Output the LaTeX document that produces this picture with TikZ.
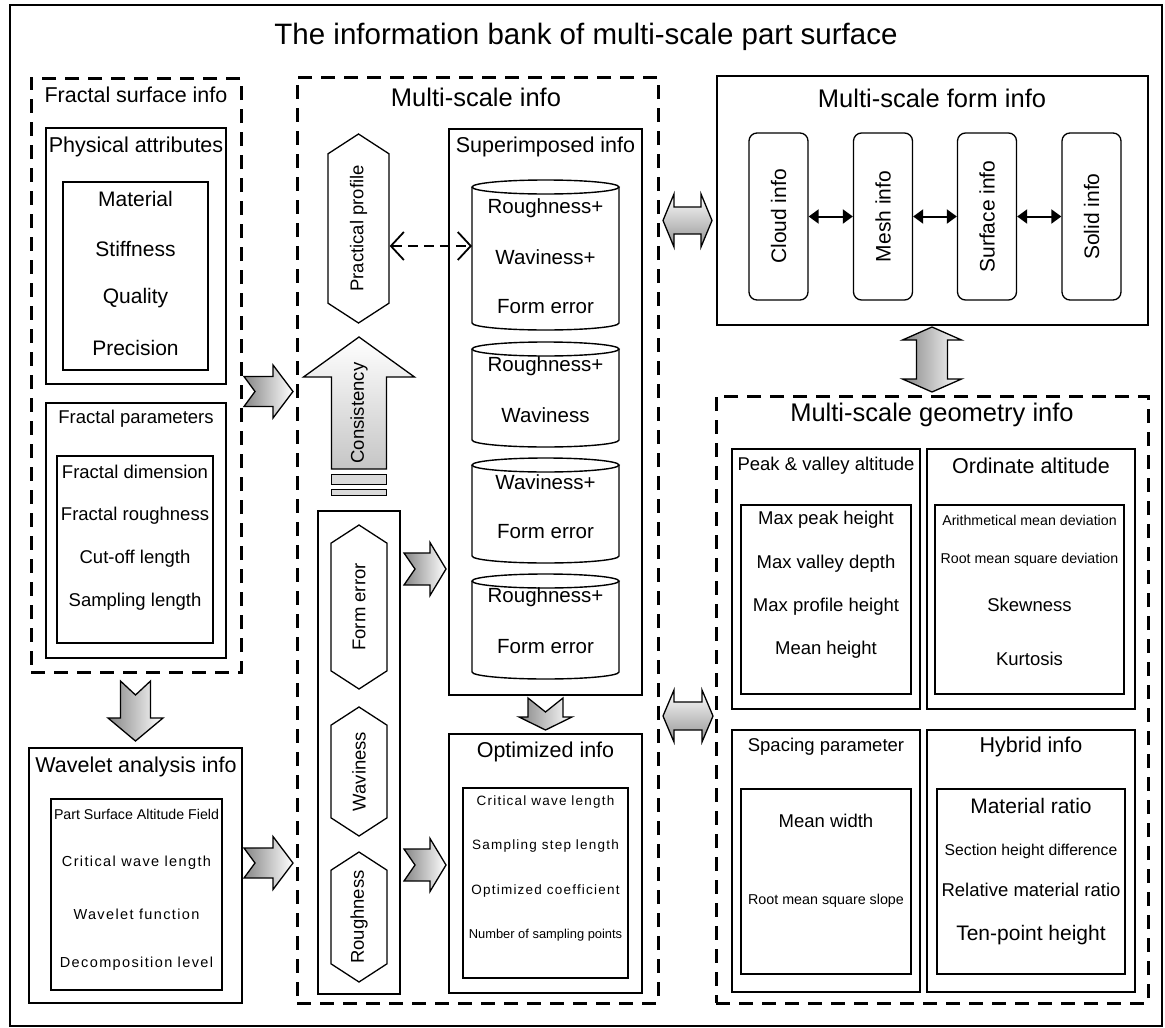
\documentclass[tikz,border=0pt]{standalone}
\usepackage{fontspec}
\setmainfont{Liberation Sans}
\usetikzlibrary{arrows.meta,shapes.symbols}
\newcommand{\fs}[1]{\fontsize{#1}{#1}\selectfont}
\newcommand{\wide}[1]{\addfontfeatures{LetterSpace=#1}}

\begin{document}
\begin{tikzpicture}[x=1pt, y=-1pt,
  font=\fs{21.5},
  box/.style={draw, line width=2.6pt, inner sep=0pt},
  dbox/.style={draw, line width=3pt, dash pattern=on 14pt off 9pt, inner sep=0pt},
  txt/.style={inner sep=0pt},
  hexa/.style={draw, line width=1.3pt, shape=signal, signal to=east and west, signal pointer angle=114,
    rotate=90, minimum height=56pt, inner sep=0pt, fill=white, font=\fs{18.5}},
  fbox/.style={draw, line width=1.3pt, rounded corners=8pt, rotate=90, minimum width=167pt,
    minimum height=59pt, inner sep=0pt, font=\fs{21}},
  cyl/.style={draw, line width=1.4pt, fill=white},
  blk/.style={draw, line width=1.3pt, left color=gray!95, right color=white},
  dbl/.style={draw, line width=1.3pt, top color=white, bottom color=gray!85},
  sarr/.style={{Triangle[length=10pt,width=14pt]}-{Triangle[length=10pt,width=14pt]}, line width=2pt},
  darr/.style={{Straight Barb[length=13pt,width=28pt]}-{Straight Barb[length=13pt,width=28pt]},
    line width=1.8pt, dash pattern=on 10pt off 6pt}
]
\useasboundingbox (0,0) rectangle (1165,1028);
\node[box, line width=2pt, minimum width=1152pt, minimum height=1021pt] (outer) at (586,515.5) {};
\node[txt, font=\fs{29.5}] (title) at (586,37) {The information bank of multi-scale part surface};

% fractal surface
\node[dbox, minimum width=210pt, minimum height=594pt] (fsi) at (136,375) {};
\node[txt] (fsit) at (136,95) {Fractal surface info};
\node[box, minimum width=180pt, minimum height=256pt] (phys) at (136,256) {};
\node[txt] (physt) at (136,147) {Physical attributes};
\node[box, minimum width=145pt, minimum height=188pt] (physin) at (135.5,276) {};
\foreach \t [count=\i] in {Material,Stiffness,Quality,Precision}
  \node[txt, font=\fs{21}] (phys\i) at (135.5,{199+49.7*(\i-1)}) {\t};
\node[box, minimum width=180pt, minimum height=255pt] (fpar) at (136,530.5) {};
\node[txt, font=\fs{18.5}] (fpart) at (136,419) {Fractal parameters};
\node[box, minimum width=156pt, minimum height=187pt] (fparin) at (135,549.5) {};
\foreach \t [count=\i] in {Fractal dimension,Fractal roughness,Cut-off length,Sampling length}
  \node[txt, font=\fs{18.5}] (fpar\i) at (135,{472+43.3*(\i-1)}) {\t};

% wavelet
\node[box, minimum width=213pt, minimum height=255pt] (wav) at (135.5,875.5) {};
\node[txt] (wavt) at (136,767) {Wavelet analysis info};
\node[box, minimum width=171pt, minimum height=191pt] (wavin) at (136.5,894.5) {};
\node[txt, font=\fs{14.2}] (wav1) at (136.5,814) {Part Surface Altitude Field};
\node[txt, font=\fs{14.5}\wide{9.5}] (wav2) at (136.5,863) {Critical wave length};
\node[txt, font=\fs{14.5}\wide{9.5}] (wav3) at (136.5,914) {Wavelet function};
\node[txt, font=\fs{14.5}\wide{9.5}] (wav4) at (136.5,964) {Decomposition level};

% multi-scale info
\node[dbox, minimum width=361pt, minimum height=926pt] (msi) at (477.5,540) {};
\node[txt, font=\fs{25.5}] (msit) at (476,97) {Multi-scale info};
\node[hexa, minimum width=189pt, minimum height=61pt] (pp) at (358.5,228.5) {Practical profile};
\shadedraw[draw, line width=1.3pt, top color=white, bottom color=gray!45]
  (359,337) -- (414.5,377) -- (386.5,377) -- (386.5,469) -- (331.5,469) -- (331.5,377) -- (303.5,377) -- cycle;
\node[txt, rotate=90, font=\fs{18.5}] (cons) at (359,413) {Consistency};
\filldraw[fill=gray!30, line width=1pt] (331.5,474) rectangle (386.5,484);
\filldraw[fill=gray!30, line width=1pt] (331.5,489) rectangle (386.5,495);
\node[box, minimum width=82pt, minimum height=483pt] (col) at (359,752.5) {};
\node[hexa, minimum width=164pt] (fe) at (359,607) {Form error};
\node[hexa, minimum width=129pt] (wv) at (359,771.5) {Waviness};
\node[hexa, minimum width=128pt] (rg) at (359,917) {Roughness};

% superimposed
\node[box, minimum width=193pt, minimum height=566pt] (sup) at (545.5,412) {};
\node[txt] (supt) at (545.5,147) {Superimposed info};
\foreach \ya/\yb in {180/330, 342/447, 458/563, 574/679} {
  \draw[cyl] (472,\ya+7) -- (472,\yb-7) arc[start angle=180, end angle=360, x radius=73.5pt, y radius=7pt]
    -- (619,\ya+7);
  \draw[cyl] (545.5,\ya+7) ellipse[x radius=73.5pt, y radius=7pt];
}
\foreach \t/\y [count=\i] in {Roughness+/208, Waviness+/257, Form error/307, Roughness+/366, Waviness/415,
    Waviness+/482, Form error/532, Roughness+/597, Form error/647}
  \node[txt, font=\fs{20.5}] (ct\i) at (545.5,\y) {\t};
\coordinate (cylw) at (472,246);
\draw[darr] (pp.south |- cylw) -- (cylw);

% optimized
\node[box, minimum width=193pt, minimum height=259pt] (opt) at (545.5,863.5) {};
\node[txt] (optt) at (545.5,752) {Optimized info};
\node[box, minimum width=165pt, minimum height=190pt] (optin) at (545.5,883) {};
\node[txt, font=\fs{13.5}\wide{9}] (opt1) at (545.5,802) {Critical wave length};
\node[txt, font=\fs{13.5}\wide{9}] (opt2) at (545.5,846) {Sampling step length};
\node[txt, font=\fs{13.5}\wide{9}] (opt3) at (545.5,891) {Optimized coefficient};
\node[txt, font=\fs{12.9}] (opt4) at (545.5,935) {Number of sampling points};

% form info
\node[box, minimum width=431pt, minimum height=249pt] (form) at (932.5,200.5) {};
\node[txt, font=\fs{25.5}] (formt) at (932,98) {Multi-scale form info};
\node[fbox] (cloud) at (778.5,216.5) {Cloud info};
\node[fbox] (mesh) at (883,216.5) {Mesh info};
\node[fbox] (surf) at (987,216.5) {Surface info};
\node[fbox] (solid) at (1091.5,216.5) {Solid info};
\draw[sarr] (cloud) -- (mesh);
\draw[sarr] (mesh) -- (surf);
\draw[sarr] (surf) -- (solid);

% geometry info
\node[dbox, minimum width=432pt, minimum height=607pt] (geo) at (932,699.5) {};
\node[txt, font=\fs{25.5}] (geot) at (932,415) {Multi-scale geometry info};
\node[box, minimum width=188pt, minimum height=260pt] (peak) at (826,579) {};
\node[txt, font=\fs{18.5}] (peakt) at (826,466) {Peak \& valley altitude};
\node[box, minimum width=170pt, minimum height=189pt] (peakin) at (826,599.5) {};
\foreach \t [count=\i] in {Max peak height,Max valley depth,Max profile height,Mean height}
  \node[txt, font=\fs{18.5}] (peak\i) at (826,{520+43.3*(\i-1)}) {\t};
\node[box, minimum width=208pt, minimum height=260pt] (ord) at (1031,579) {};
\node[txt] (ordt) at (1031,466) {Ordinate altitude};
\node[box, minimum width=189pt, minimum height=189pt] (ordin) at (1029.5,599.5) {};
\node[txt, font=\fs{14.2}] (ord1) at (1029.5,520) {Arithmetical mean deviation};
\node[txt, font=\fs{14.2}] (ord2) at (1029.5,560) {Root mean square deviation};
\node[txt, font=\fs{18.5}] (ord3) at (1029.5,605) {Skewness};
\node[txt, font=\fs{18.5}] (ord4) at (1029.5,659) {Kurtosis};
\node[box, minimum width=188pt, minimum height=262pt] (spc) at (826,861) {};
\node[txt, font=\fs{18.5}] (spct) at (826,747) {Spacing parameter};
\node[box, minimum width=170pt, minimum height=185pt] (spcin) at (826,881.5) {};
\node[txt, font=\fs{18.5}] (spc1) at (826,821) {Mean width};
\node[txt, font=\fs{14.3}] (spc2) at (826,901) {Root mean square slope};
\node[box, minimum width=208pt, minimum height=262pt] (hyb) at (1031,861) {};
\node[txt] (hybt) at (1031,747) {Hybrid info};
\node[box, minimum width=188pt, minimum height=185pt] (hybin) at (1031,881.5) {};
\node[txt, font=\fs{21}] (hyb1) at (1031,806) {Material ratio};
\node[txt, font=\fs{15.7}] (hyb2) at (1031,851) {Section height difference};
\node[txt, font=\fs{18.5}] (hyb3) at (1031,890) {Relative material ratio};
\node[txt, font=\fs{21}] (hyb4) at (1031,935) {Ten-point height};

% block arrows
\shadedraw[blk] (293,391.5) -- ++(-20,-26.5) -- ++(0,11.5) -- ++(-29,0) -- ++(11,15) -- ++(-11,15)
  -- ++(29,0) -- ++(0,11.5) -- cycle;
\shadedraw[blk] (293,863) -- ++(-20,-26.5) -- ++(0,11.5) -- ++(-29,0) -- ++(11,15) -- ++(-11,15)
  -- ++(29,0) -- ++(0,11.5) -- cycle;
\shadedraw[blk] (446,569) -- ++(-16,-26.5) -- ++(0,10.5) -- ++(-26,0) -- ++(11,16) -- ++(-11,16)
  -- ++(26,0) -- ++(0,10.5) -- cycle;
\shadedraw[blk] (446,865) -- ++(-16,-26.5) -- ++(0,10.5) -- ++(-26,0) -- ++(11,16) -- ++(-11,16)
  -- ++(26,0) -- ++(0,10.5) -- cycle;
\shadedraw[blk] (135.5,741) -- ++(-27.5,-23) -- ++(12.5,0) -- ++(0,-37) -- ++(15,14) -- ++(15,-14)
  -- ++(0,37) -- ++(12.5,0) -- cycle;
\shadedraw[blk] (545.5,730) -- ++(-26.5,-13) -- ++(9,0) -- ++(0,-19) -- ++(17.5,14) -- ++(17.5,-14)
  -- ++(0,19) -- ++(9,0) -- cycle;
\shadedraw[dbl] (663,220.5) -- (674,194) -- (674,207) -- (701,207) -- (701,194) -- (712,220.5)
  -- (701,247) -- (701,234) -- (674,234) -- (674,247) -- cycle;
\shadedraw[dbl] (663,716) -- (674,690) -- (674,702) -- (702,702) -- (702,690) -- (713,716)
  -- (702,742) -- (702,730) -- (674,730) -- (674,742) -- cycle;
\shadedraw[blk] (932,327) -- (961.5,340) -- (947.5,340) -- (947.5,379) -- (961.5,379) -- (932,392)
  -- (902.5,379) -- (916.5,379) -- (916.5,340) -- (902.5,340) -- cycle;
\end{tikzpicture}
\end{document}
